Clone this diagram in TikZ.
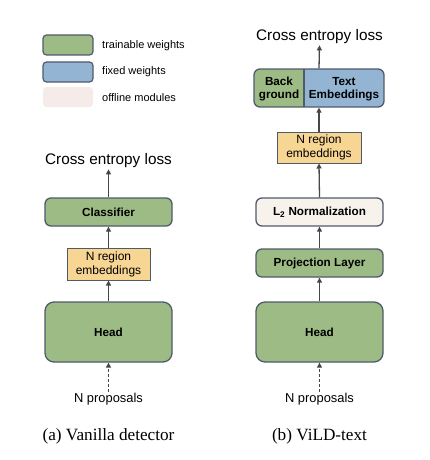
\documentclass[tikz,border=0pt]{standalone}
\usepackage{fontspec}
\setmainfont{Liberation Serif}
\newfontfamily\arialf{Liberation Sans}
\usetikzlibrary{arrows.meta}
\definecolor{tgreen}{HTML}{9DBB84}
\definecolor{fblue}{HTML}{93B5D3}
\definecolor{eyellow}{HTML}{F7D593}
\definecolor{opink}{HTML}{F5EBE8}
\definecolor{lnorm}{HTML}{F7F3EC}
\definecolor{bord}{HTML}{4F5B6B}
\definecolor{arrc}{HTML}{474747}
\tikzset{
  x=1pt, y=-1pt,
  box/.style={draw=bord, line width=1.3pt, rounded corners=6pt, inner sep=0pt, align=center,
     font=\arialf\bfseries\fontsize{11.7}{13.5}\selectfont},
  trainbox/.style={box, fill=tgreen},
  embbox/.style={draw=bord, line width=1pt, fill=eyellow, inner sep=0pt, align=center,
     font=\arialf\fontsize{12}{14}\selectfont},
  legbox/.style={rounded corners=3.5pt, minimum width=50pt, minimum height=20pt, inner sep=0pt},
  legtxt/.style={anchor=west, inner sep=0pt, font=\arialf\fontsize{11}{13}\selectfont},
  losstxt/.style={inner sep=1pt, font=\arialf\fontsize{15.3}{17}\selectfont},
  proptxt/.style={inner sep=1pt, font=\arialf\fontsize{12.9}{15}\selectfont},
  captxt/.style={inner sep=0pt, font=\fontsize{17.2}{20}\selectfont},
  arr/.style={draw=arrc, line width=1.3pt, -{Triangle[length=5pt,width=5pt]}},
  darr/.style={arr, dash pattern=on 3pt off 2pt}
}
\begin{document}
\begin{tikzpicture}
\useasboundingbox (0,0) rectangle (430,460);
% legend
\node[legbox, fill=tgreen, draw=bord, line width=1.2pt] (lg) at (68,45) {};
\node[legbox, fill=fblue, draw=bord, line width=1.2pt] (lb) at (68,72) {};
\node[legbox, fill=opink] (lp) at (68,97) {};
\node[legtxt] (lgt) at (102,46) {trainable weights};
\node[legtxt] (lbt) at (102,72) {fixed weights};
\node[legtxt] (lpt) at (102,98) {offline modules};

% (a) Vanilla detector
\node[losstxt] (lossA) at (108.5,161) {Cross entropy loss};
\node[trainbox, minimum width=127pt, minimum height=28pt] (cls) at (108.5,212) {Classifier};
\node[embbox, minimum width=83pt, minimum height=32pt] (embA) at (108.5,264) {N region\\embeddings};
\node[trainbox, rounded corners=9pt, minimum width=127pt, minimum height=60pt] (headA) at (108.5,332) {Head};
\node[proptxt] (propA) at (108.5,399) {N proposals};
\node[captxt] (capA) at (108.5,436) {(a) Vanilla detector};
\draw[arr] (cls.north) -- (lossA.south);
\draw[arr] (embA.north) -- (cls.south);
\draw[arr] (headA.north) -- (embA.south);
\draw[darr] (propA.north) -- (headA.south);

% (b) ViLD-text
\node[losstxt] (lossB) at (319.5,37) {Cross entropy loss};
\begin{scope}
  \clip[rounded corners=6pt] (254,69) rectangle (384,107);
  \fill[fblue] (254,69) rectangle (384,107);
  \fill[tgreen] (254,69) rectangle (304,107);
\end{scope}
\node[draw=bord, line width=1.3pt, rounded corners=6pt, minimum width=130pt, minimum height=38pt, inner sep=0pt] (cmb) at (319,88) {};
\draw[draw=bord, line width=1.3pt] (304,69) -- (304,107);
\node[box, draw=none, fill=none] (bg) at (279,89) {Back\\ground};
\node[box, draw=none, fill=none] (txt) at (344,89) {Text\\Embeddings};
\node[embbox, minimum width=84pt, minimum height=31pt] (embB) at (319,147.5) {N region\\embeddings};
\node[box, fill=lnorm, minimum width=127pt, minimum height=28pt] (l2) at (319.5,212) {L\textsubscript{2} Normalization};
\node[trainbox, minimum width=127pt, minimum height=28pt] (proj) at (319.5,263) {Projection Layer};
\node[trainbox, rounded corners=9pt, minimum width=127pt, minimum height=60pt] (headB) at (319.5,332) {Head};
\node[proptxt] (propB) at (319.5,399) {N proposals};
\node[captxt] (capB) at (319.5,436) {(b) ViLD-text};
\draw[arr] (cmb.north) -- (lossB.south);
\draw[arr] (embB.north) -- (cmb.south);
\draw[arr] (l2.north) -- (embB.south);
\draw[arr] (proj.north) -- (l2.south);
\draw[arr] (headB.north) -- (proj.south);
\draw[darr] (propB.north) -- (headB.south);
\end{tikzpicture}
\end{document}
